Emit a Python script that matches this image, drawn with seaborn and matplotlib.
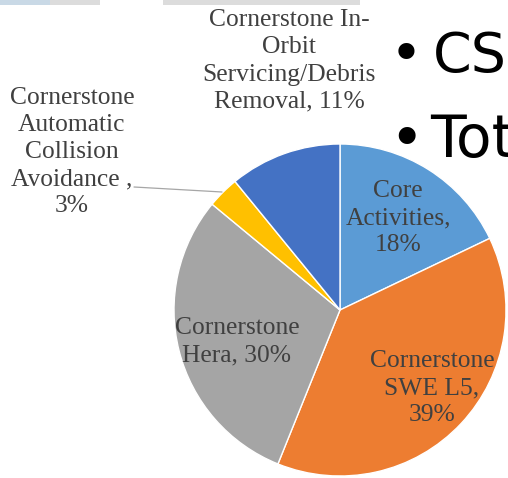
import matplotlib
matplotlib.use("Agg")
import matplotlib.pyplot as plt
import seaborn as sns
from matplotlib.patches import Rectangle
from matplotlib.lines import Line2D

# ---- data ----
categories = ["Core Activities", "Cornerstone SWE L5", "Cornerstone Hera",
              "Cornerstone Automatic Collision Avoidance",
              "Cornerstone In-Orbit Servicing/Debris Removal"]
shares = [17.9, 38.2, 29.9, 3.1, 10.9]
label_texts = ["Core\nActivities,\n18%",
               "Cornerstone\nSWE L5,\n39%",
               "Cornerstone\nHera, 30%",
               "Cornerstone\nAutomatic\nCollision\nAvoidance ,\n3%",
               "Cornerstone In-\nOrbit\nServicing/Debris\nRemoval, 11%"]
colors = ["#5B9BD5", "#ED7D31", "#A5A5A5", "#FFC000", "#4472C4"]
bullet_words = ["CS", "Tot"]

sns.set_theme(style="white")

W, H = 508, 478
fig = plt.figure(figsize=(W / 100, H / 100), dpi=100)
fig.patch.set_facecolor("white")


def px(x, y):
    return x / W, 1 - y / H


# faint cropped slide elements at the very top
fig.patches.append(Rectangle(px(0, 5), 50 / W, 5 / H, transform=fig.transFigure,
                             facecolor="#c9d9e6", edgecolor="none"))
fig.patches.append(Rectangle(px(50, 5), 50 / W, 5 / H, transform=fig.transFigure,
                             facecolor="#dcdcdc", edgecolor="none"))
fig.patches.append(Rectangle(px(163, 5), 197 / W, 5 / H, transform=fig.transFigure,
                             facecolor="#dcdcdc", edgecolor="none"))

# pie axes: center (340,310), radius 166 px
cx, cy, r = 340, 310, 166
ax = fig.add_axes([(cx - r) / W, 1 - (cy + r) / H, 2 * r / W, 2 * r / H])
ax.pie(shares, colors=colors, startangle=90, counterclock=False,
       wedgeprops=dict(edgecolor="white", linewidth=1.0))
ax.set_xlim(-1, 1)
ax.set_ylim(-1, 1)
ax.set_aspect("equal")
ax.axis("off")

label_pos = [(398, 218), (432, 388), (237, 342), (72, 152), (289, 61)]
for txt, (x, y) in zip(label_texts, label_pos):
    fig.text(*px(x, y), txt, ha="center", va="center", fontsize=18.4,
             family="Liberation Serif", color="#404040", linespacing=1.3)

# leader line for the small slice
fig.lines.append(Line2D([134 / W, 222 / W], [1 - 187 / H, 1 - 192 / H],
                        transform=fig.transFigure, color="#a6a6a6", lw=0.9))

# cropped slide bullets on the right
bullet_rows = [(72, 40, 433), (157, 42, 430)]
for word, (base, fs, wx) in zip(bullet_words, bullet_rows):
    fig.text(*px(406, base), "\u2022", ha="center", va="baseline", fontsize=fs,
             family="DejaVu Sans", color="black")
    fig.text(*px(wx, base), word, ha="left", va="baseline", fontsize=fs,
             family="DejaVu Sans", color="black")

fig.savefig("out.png", dpi=100)
